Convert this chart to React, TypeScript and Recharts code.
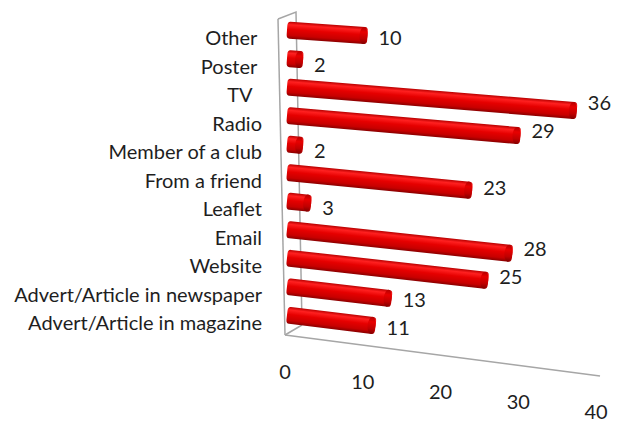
import React from "react";
import { BarChart, Bar, XAxis, YAxis, LabelList, Customized } from "recharts";

const categories = [
  "Other ",
  "Poster ",
  "TV  ",
  "Radio",
  "Member of a club",
  "From a friend",
  "Leaflet",
  "Email",
  "Website",
  "Advert/Article in newspaper",
  "Advert/Article in magazine",
];
const values = [10, 2, 36, 29, 2, 23, 3, 28, 25, 13, 11];
const xTicks = [0, 10, 20, 30, 40];

const data = categories.map((name, i) => ({ name, value: values[i] }));

const FONT = "Lato, 'Noto Sans', sans-serif";
const TEXT = "#1e1e1e";
const FS = 20;
const slopeFor = (i: number) => 0.072 + 0.005 * i;

function CylinderBar(props: any) {
  const { x, y, width, height, index } = props;
  if (width == null || width <= 0) return null;
  const cy = y + height / 2;
  const s = slopeFor(index);
  const a = Math.atan(s);
  const len = width / Math.cos(a);
  const deg = (a * 180) / Math.PI;
  return (
    <g transform={`rotate(${deg} ${x} ${cy})`}>
      <rect x={x} y={cy - 8.5} width={len} height={17} rx={3} ry={4} fill="url(#cylGrad)" />
      <ellipse cx={x + len - 4} cy={cy} rx={4} ry={8.5} fill="url(#capGrad)" />
    </g>
  );
}

function ValueLabel(props: any) {
  const { x, y, width, height, value, index } = props;
  const cy = y + height / 2;
  const s = slopeFor(index);
  const ex = x + width + 11;
  const ey = cy + 5 + (s - 0.047) * width;
  return (
    <text x={ex} y={ey} dominantBaseline="central" fontFamily={FONT} fontSize={FS} fill={TEXT}>
      {value}
    </text>
  );
}

function YTick(props: any) {
  const { x, y, payload } = props;
  return (
    <text
      x={x - 17}
      y={y + 7}
      textAnchor="end"
      dominantBaseline="central"
      fontFamily={FONT}
      fontSize={FS}
      fill={TEXT}
      style={{ whiteSpace: "pre" }}
    >
      {payload.value}
    </text>
  );
}

function XTick(props: any) {
  const { x, y, payload } = props;
  const v = payload.value;
  const lx = 277 + (x - 279) * 0.966;
  const ly = y + 33 + v * 1.02;
  return (
    <text x={lx} y={ly} textAnchor="middle" dominantBaseline="central" fontFamily={FONT} fontSize={FS} fill={TEXT}>
      {v}
    </text>
  );
}

function Decor() {
  const c = "#a6a6a6";
  return (
    <g>
      <defs>
        <linearGradient id="cylGrad" x1="0" y1="0" x2="0" y2="1">
          <stop offset="0" stopColor="#b80000" />
          <stop offset="0.18" stopColor="#ff2020" />
          <stop offset="0.45" stopColor="#e60000" />
          <stop offset="0.8" stopColor="#c80000" />
          <stop offset="1" stopColor="#8a0000" />
        </linearGradient>
        <linearGradient id="capGrad" x1="0" y1="0" x2="0" y2="1">
          <stop offset="0" stopColor="#b00000" />
          <stop offset="0.3" stopColor="#e80000" />
          <stop offset="0.7" stopColor="#c00000" />
          <stop offset="1" stopColor="#800000" />
        </linearGradient>
      </defs>
      <polyline points="270,11 288,4 294,317" fill="none" stroke={c} strokeWidth={1.5} />
      <line x1={270} y1={11} x2={277} y2={327} stroke={c} strokeWidth={1.5} />
      <line x1={277} y1={327} x2={294} y2={317} stroke={c} strokeWidth={1.5} />
      <line x1={277} y1={327} x2={592} y2={368} stroke={c} strokeWidth={1.5} />
    </g>
  );
}

export default function App() {
  return (
    <BarChart
      width={609}
      height={415}
      data={data}
      layout="vertical"
      margin={{ top: 8, right: 8, bottom: 63.5, left: 0 }}
      barSize={16}
    >
      <Customized component={Decor} />
      <XAxis
        type="number"
        domain={[0, 40]}
        ticks={xTicks}
        axisLine={false}
        tickLine={false}
        height={30}
        tick={<XTick />}
        interval={0}
      />
      <YAxis
        type="category"
        dataKey="name"
        width={279}
        axisLine={false}
        tickLine={false}
        tick={<YTick />}
        interval={0}
      />
      <Bar dataKey="value" shape={<CylinderBar />} isAnimationActive={false}>
        <LabelList dataKey="value" content={<ValueLabel />} />
      </Bar>
    </BarChart>
  );
}
